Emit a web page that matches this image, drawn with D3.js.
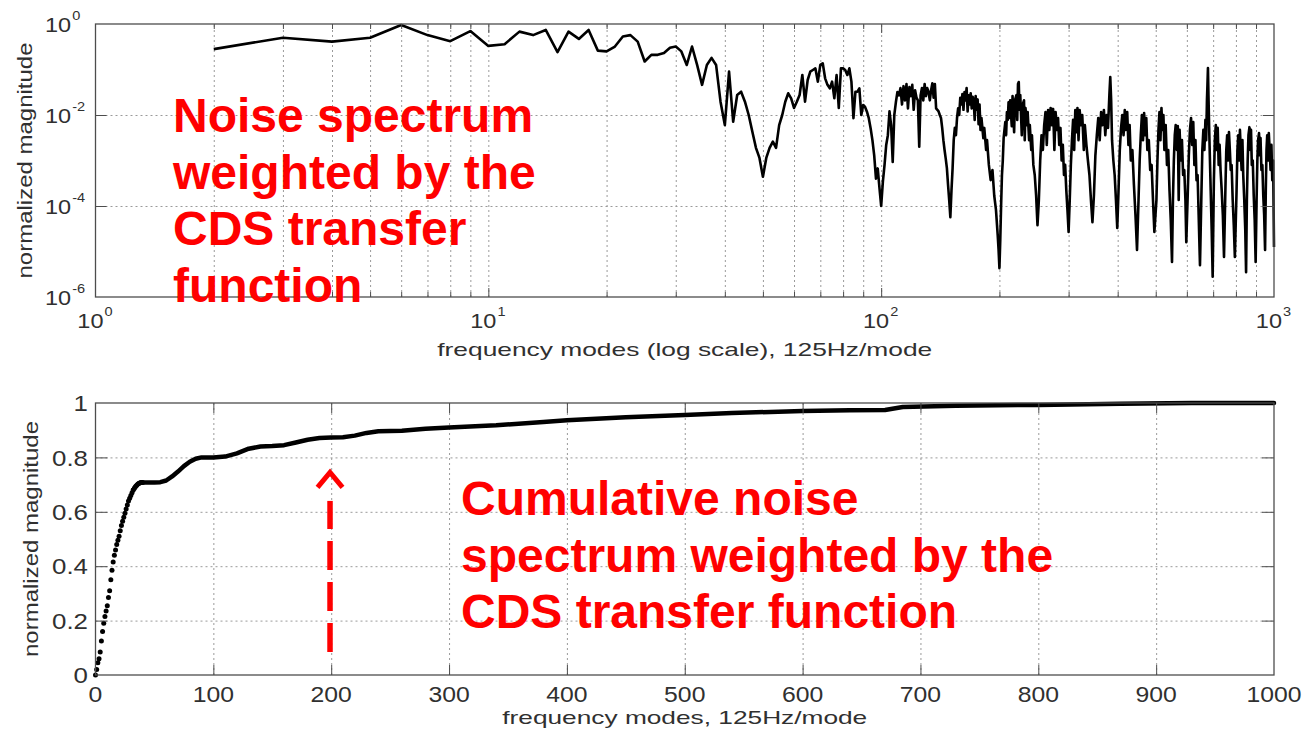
<!DOCTYPE html>
<html>
<head>
<meta charset="utf-8">
<script src="https://cdn.jsdelivr.net/npm/d3@7"></script>
<style>
  html, body { margin: 0; padding: 0; background: #ffffff; }
  svg { display: block; }
  text { font-family: "Liberation Sans", Arial, Helvetica, sans-serif; }
</style>
</head>
<body>
<svg id="chart" width="1305" height="735"></svg>
<script>
// ---- Noise spectrum weighted by the CDS transfer function: [mode, normalized magnitude]
const spectrumLow = [
  [2,0.28],[3,0.50],[4,0.41],[5,0.50],[6,0.95],[7,0.57],[8,0.42],[9,0.70],[10,0.33],
  [11,0.36],[12,0.68],[13,0.57],[14,0.74],[15,0.24],[16,0.68],[17,0.47],[18,0.74],[19,0.26],[20,0.25],
  [21,0.32],[22,0.53],[23,0.57],[24,0.41],[25,0.15],[26,0.21],[27,0.21],[28,0.23],[29,0.30],[30,0.32],
  [31,0.25],[32,0.126],[33,0.32],[34,0.126],[35,0.046],[36,0.126],[37,0.18],[38,0.126],[39,0.0196],[40,0.006],
  [41,0.09],[42,0.0071],[43,0.0275],[44,0.0325],[45,0.0196],[46,0.01],[47,0.0043],[48,0.0019],[49,0.00114],[50,0.00044],
  [51,0.00114],[52,0.0019],[53,0.0026],[54,0.0019],[55,0.006],[56,0.01],[57,0.0196],[58,0.03],[59,0.0233],[60,0.0143],
  [61,0.0196],[62,0.0275],[63,0.0757],[64,0.0196],[65,0.0588],[66,0.09],[67,0.0976],[68,0.106],[69,0.054],[70,0.126],
  [71,0.137],[72,0.064],[73,0.046],[74,0.0386],[75,0.054],[76,0.0233],[77,0.0757],[78,0.0143],[79,0.106],[80,0.106],
  [81,0.0976],[82,0.0757],[83,0.106],[84,0.054],[85,0.0085],[86,0.0325],[87,0.0325],[88,0.0386],[89,0.01],[90,0.0166],
  [91,0.015],[92,0.0118],[93,0.0085],[94,0.0051],[95,0.0028],[96,0.0013],[97,0.0004],[98,0.00067],[99,0.00025]
];
const spectrumMid = [
  [100,1.0e-4],[101,3.4e-4],[102,8.0e-4],[103,2.2e-3],[104,3.6e-3],[105,1.2e-2],[106,6.0e-3],[107,9.3e-4],[108,1.0e-2],[109,1.9e-2],
  [110,3.2e-2],[111,2.7e-2],[112,3.9e-2],[113,1.7e-2],[114,4.3e-2],[115,2.1e-2],[116,4.8e-2],[117,1.4e-2],[118,4.1e-2],[119,2.6e-2],
  [120,4.6e-2],[121,1.3e-2],[122,3.5e-2],[123,2.4e-2],[124,2.1e-2],[125,2.0e-3],[126,2.7e-2],[127,3.9e-2],[128,2.1e-2],[129,4.8e-2],
  [130,2.6e-2],[131,3.9e-2],[132,3.2e-2],[133,2.1e-2],[134,3.5e-2],[135,5.0e-2],[136,2.4e-2],[137,4.8e-2],[138,1.4e-2],[139,1.3e-2],
  [140,1.2e-2],[141,1.0e-2],[142,8.6e-3],[143,5.2e-3],[144,2.8e-3],[145,1.7e-3],[146,1.1e-3],[147,6.8e-4],[148,2.9e-4],[149,1.35e-4],
  [150,5.7e-5],[151,2.2e-4],[152,6.8e-4],[153,2.8e-3],[154,5.2e-3],[155,3.6e-3],[156,8.6e-3],[157,1.4e-2],[158,1.0e-2],[159,2.4e-2],
  [160,1.7e-2],[161,2.9e-2],[162,1.3e-2],[163,3.2e-2],[164,2.1e-2],[165,3.9e-2],[166,1.2e-2],[167,2.7e-2],[168,1.7e-2],[169,3.0e-2],
  [170,1.4e-2],[171,2.5e-2],[172,2.1e-2],[173,7.8e-3],[174,2.6e-2],[175,1.3e-2],[176,2.2e-2],[177,6.3e-3],[178,1.7e-2],[179,4.7e-3],
  [180,8.6e-3],[182,3.1e-3],[183,5.2e-3],[185,1.7e-3],[186,2.8e-3],[188,8.0e-4],[190,3.7e-4],[192,6.2e-4],[194,1.7e-4],[196,8.2e-5],
  [198,2.3e-5],[199,1.1e-5],[200,4.3e-6]
];
const spectrumHigh = [
  [201,1.8e-5],[202,1.05e-4],[203,4.8e-4],[204,1.0e-3],[205,3.1e-3],[206,4.7e-3],[207,7.0e-3],[208,3.6e-3],[209,1.16e-2],[210,7.8e-3],
  [211,1.9e-2],[212,8.6e-3],[213,2.1e-2],[215,5.7e-3],[216,2.6e-2],[218,4.2e-3],[219,2.1e-2],[221,2.75e-2],[222,7.8e-3],[223,4.8e-2],
  [224,5.3e-2],[225,1.3e-2],[226,2.75e-2],[228,3.6e-3],[229,1.66e-2],[231,2.1e-2],[232,2.8e-3],[233,1.43e-2],[235,6.0e-3],[236,1.16e-2],
  [238,2.8e-3],[239,6.0e-3],[241,1.7e-3],[242,3.6e-3],[244,8.0e-4],[246,4.8e-4],[248,1.7e-4],[250,3.8e-5],
  [252,1.35e-4],[254,1.0e-3],[256,3.6e-3],[258,1.7e-3],[260,6.0e-3],[262,1.16e-2],[264,2.2e-3],[266,1.29e-2],[268,4.7e-3],[270,1.43e-2],
  [272,6.0e-3],[274,1.36e-2],[276,1.7e-3],[278,1.16e-2],[280,4.7e-3],[282,8.6e-3],[284,2.2e-3],[286,5.2e-3],[288,1.0e-3],[290,2.2e-3],
  [292,4.8e-4],[294,8.0e-4],[296,2.2e-4],[298,8.2e-5],[300,2.7e-5],
  [302,1.35e-4],[304,8.0e-4],[306,2.8e-3],[308,7.8e-3],[310,1.7e-3],[312,1.29e-2],[314,4.2e-3],[316,1.43e-2],[318,2.8e-3],[320,1.29e-2],
  [323,6.0e-3],[325,1.0e-2],[328,1.7e-3],[330,6.0e-3],[333,2.2e-3],[336,1.0e-3],[339,4.8e-4],[342,1.35e-4],[345,4.4e-5],
  [348,1.7e-4],[351,1.3e-3],[354,3.6e-3],[357,8.6e-3],[360,2.8e-3],[363,1.16e-2],[366,6.0e-3],[369,1.29e-2],[372,3.6e-3],[375,1.0e-2],
  [378,5.2e-3],[381,2.75e-2],[383,6.8e-2],[385,2.1e-2],[387,2.8e-3],[390,1.0e-3],[393,4.8e-4],[396,1.35e-4],[399,3.3e-5],
  [402,2.2e-4],[405,1.7e-3],[408,5.2e-3],[411,1.0e-2],[414,3.6e-3],[417,1.29e-2],[420,4.7e-3],[423,1.16e-2],[426,2.2e-3],[429,6.0e-3],
  [432,1.0e-3],[436,1.7e-3],[440,2.9e-4],[444,6.3e-5],[448,1.08e-5],
  [452,1.35e-4],[455,1.0e-3],[458,3.6e-3],[461,1.0e-2],[464,2.8e-3],[467,1.11e-2],[470,3.6e-3],[473,8.6e-3],[476,1.7e-3],[480,2.8e-3],
  [484,6.2e-4],[488,8.0e-4],[492,1.35e-4],[496,2.7e-5],
  [502,1.35e-4],[505,1.0e-3],[508,4.7e-3],[511,1.16e-2],[514,2.8e-3],[517,1.43e-2],[520,4.7e-3],[523,1.0e-2],[526,1.7e-3],[530,6.0e-3],
  [534,8.0e-4],[538,1.7e-3],[542,2.2e-4],[546,4.9e-5],[550,5.9e-6],
  [553,1.35e-4],[556,1.0e-3],[559,3.6e-3],[562,6.0e-3],[566,1.7e-3],[569,5.7e-3],[572,1.35e-4],[575,4.7e-3],[579,1.0e-3],[583,2.8e-3],
  [587,4.8e-4],[591,6.2e-4],[595,1.35e-4],[598,1.6e-5],
  [603,1.7e-4],[607,1.3e-3],[611,4.7e-3],[615,8.6e-3],[619,2.2e-3],[623,7.0e-3],[627,8.0e-4],[631,2.8e-3],[635,3.7e-4],[639,4.8e-4],
  [643,6.3e-5],[648,5.0e-6],
  [653,1.35e-4],[657,1.7e-3],[661,4.7e-3],[665,1.7e-3],[669,7.8e-3],[672,2.8e-3],[675,2.1e-2],[677,4.6e-2],[679,1.08e-1],[681,2.75e-2],
  [684,4.7e-3],[687,1.0e-3],[690,2.2e-4],[694,3.0e-5],[698,2.8e-6],
  [703,3.7e-4],[707,2.8e-3],[711,6.0e-3],[715,1.7e-3],[719,5.2e-3],[723,8.0e-4],[727,2.2e-3],[731,6.2e-4],[736,2.2e-4],[741,6.3e-5],[746,7.6e-6],
  [752,2.2e-4],[756,1.7e-3],[760,3.6e-3],[764,1.0e-3],[768,4.2e-3],[772,1.7e-3],[776,6.2e-4],[780,8.0e-4],[785,1.35e-4],[790,3.8e-5],[795,7.6e-6],
  [803,2.2e-4],[807,1.7e-3],[811,3.6e-3],[815,1.0e-3],[819,4.7e-3],[823,1.7e-3],[827,6.2e-4],[831,2.8e-3],[835,4.8e-4],[840,1.35e-4],[845,3.0e-5],[849,3.5e-6],
  [853,1.35e-4],[857,1.0e-3],[861,3.6e-3],[866,5.4e-3],[870,1.7e-3],[874,4.7e-3],[878,8.0e-4],[883,1.0e-3],[888,1.7e-4],[893,4.9e-5],[898,5.9e-6],
  [903,1.35e-4],[907,1.0e-3],[911,2.8e-3],[916,4.0e-3],[920,1.3e-3],[924,3.1e-3],[929,6.2e-4],[934,8.0e-4],[939,1.7e-4],[944,6.3e-5],[949,1.08e-5],
  [953,2.2e-4],[957,1.7e-3],[961,3.6e-3],[966,1.0e-3],[970,4.0e-3],[975,1.7e-3],[980,6.2e-4],[985,2.2e-3],[990,3.7e-4],[995,1.0e-3],[1000,1.26e-5]
];

// ---- Cumulative noise spectrum weighted by the CDS transfer function: [mode, normalized magnitude]
const cumulative = [
  [0,0],[1,0.02],[2,0.045],[3,0.06],[4,0.085],[5,0.125],[6,0.16],[7,0.19],[8,0.215],[9,0.235],
  [10,0.255],[11,0.285],[12,0.31],[13,0.35],[14,0.385],[15,0.415],[16,0.44],[17,0.46],[18,0.48],[19,0.495],
  [20,0.51],[21,0.53],[22,0.55],[23,0.565],[24,0.58],[25,0.595],[26,0.61],[27,0.625],[28,0.64],[29,0.65],
  [30,0.66],[31,0.67],[32,0.68],[33,0.687],[34,0.693],[35,0.698],[36,0.702],[37,0.705],[38,0.707],[39,0.708],
  [40,0.708],[45,0.708],[50,0.708],[55,0.709],[60,0.715],[65,0.73],[70,0.748],[75,0.768],[80,0.784],[85,0.795],
  [90,0.8],[100,0.8],[110,0.803],[120,0.815],[130,0.832],[140,0.84],[150,0.842],[160,0.845],[170,0.855],[180,0.865],
  [190,0.871],[200,0.873],[210,0.874],[220,0.88],[230,0.89],[240,0.896],[260,0.898],[280,0.905],[300,0.91],[340,0.918],
  [380,0.93],[400,0.937],[450,0.948],[500,0.956],[540,0.963],[600,0.971],[640,0.973],[670,0.974],[685,0.985],[730,0.99],
  [800,0.993],[870,0.997],[930,1.0],[1000,1.0]
];

// ---- Axis ticks and texts
const topXTickExps = ["0", "1", "2", "3"];
const topYTickExps = ["0", "-2", "-4", "-6"];
const bottomXTicks = [0, 100, 200, 300, 400, 500, 600, 700, 800, 900, 1000];
const bottomYTicks = [0, 0.2, 0.4, 0.6, 0.8, 1];
const topXTitle = "frequency modes (log scale), 125Hz/mode";
const bottomXTitle = "frequency modes, 125Hz/mode";
const yTitle = "normalized magnitude";
const topNote = ["Noise spectrum", "weighted by the", "CDS transfer", "function"];
const bottomNote = ["Cumulative noise", "spectrum weighted by the", "CDS transfer function"];

// ---- Layout
const W = 1305, H = 735;
const L = 95.5, R = 1274;
const T1 = 24, B1 = 297;      // upper panel
const T2 = 403, B2 = 675;     // lower panel
const FRAME = "#4d4d4d", GRID = "#9a9a9a", TEXT = "#303030", RED = "#ff0000";

const svg = d3.select("#chart");
svg.append("rect").attr("width", W).attr("height", H).attr("fill", "#ffffff");

const xTop = d3.scaleLog().domain([1, 1000]).range([L, R]);
const yTop = d3.scaleLog().domain([1e-6, 1]).range([B1, T1]);
const xBot = d3.scaleLinear().domain([0, 1000]).range([L, R]);
const yBot = d3.scaleLinear().domain([0, 1]).range([B2, T2]);

function styleTicks(g, color, dash) {
  g.select(".domain").remove();
  g.selectAll("line").attr("stroke", color).attr("stroke-width", 1)
    .attr("stroke-dasharray", dash || null);
  g.selectAll("text").remove();
}

// Grid lines (dotted) drawn with axes whose ticks span the plot
function grid(axisFn, scale, values, span, transform) {
  svg.append("g").attr("transform", transform)
    .call(axisFn(scale).tickValues(values).tickSize(-span).tickFormat(""))
    .call(g => styleTicks(g, GRID, "2,3"));
}
// Inward tick marks
function ticks(axisFn, scale, values, len, transform) {
  svg.append("g").attr("transform", transform)
    .call(axisFn(scale).tickValues(values).tickSize(-len).tickFormat(""))
    .call(g => styleTicks(g, FRAME));
}

// ===== Upper panel =====
const logTicks = xTop.ticks().filter(v => v > 1 && v < 1000);
const majorX = logTicks.filter(v => Math.abs(Math.log10(v) - Math.round(Math.log10(v))) < 1e-9);
const minorX = logTicks.filter(v => !majorX.includes(v));
const topYGrid = [1e-2, 1e-4];

grid(d3.axisBottom, xTop, logTicks, B1 - T1, `translate(0,${B1})`);
grid(d3.axisLeft, yTop, topYGrid, R - L, `translate(${L},0)`);

const spectrum = spectrumLow.concat(spectrumMid, spectrumHigh);
svg.append("path")
  .datum(spectrum)
  .attr("fill", "none")
  .attr("stroke", "#000")
  .attr("stroke-width", 2.6)
  .attr("stroke-linejoin", "round")
  .attr("d", d3.line().x(d => xTop(d[0])).y(d => yTop(d[1])));

ticks(d3.axisBottom, xTop, minorX, 5, `translate(0,${B1})`);
ticks(d3.axisTop, xTop, minorX, 5, `translate(0,${T1})`);
ticks(d3.axisBottom, xTop, majorX, 9, `translate(0,${B1})`);
ticks(d3.axisTop, xTop, majorX, 9, `translate(0,${T1})`);
ticks(d3.axisLeft, yTop, topYGrid, 11, `translate(${L},0)`);
ticks(d3.axisRight, yTop, topYGrid, 11, `translate(${R},0)`);

svg.append("rect").attr("x", L).attr("y", T1).attr("width", R - L).attr("height", B1 - T1)
  .attr("fill", "none").attr("stroke", FRAME).attr("stroke-width", 1.3);

function powerLabel(x, y, exp, anchor) {
  const t = svg.append("text")
    .attr("transform", `translate(${x},${y}) scale(1.12,1)`)
    .attr("text-anchor", anchor).attr("fill", TEXT);
  t.append("tspan").attr("font-size", 21).text("10");
  t.append("tspan").attr("font-size", 13).attr("dx", 1).attr("dy", -12).text(exp);
}
topYTickExps.forEach(e => powerLabel(45, yTop(Math.pow(10, +e)) + 7.5, e, "start"));
topXTickExps.forEach(e => powerLabel(xTop(Math.pow(10, +e)) - 0.5, 328, e, "middle"));

svg.append("text")
  .attr("x", (L + R) / 2).attr("y", 356)
  .attr("text-anchor", "middle").attr("font-size", 19).attr("fill", TEXT)
  .attr("textLength", 495).attr("lengthAdjust", "spacingAndGlyphs")
  .text(topXTitle);
svg.append("text")
  .attr("transform", `translate(32,${(T1 + B1) / 2}) rotate(-90)`)
  .attr("text-anchor", "middle").attr("font-size", 21).attr("fill", TEXT)
  .attr("textLength", 236).attr("lengthAdjust", "spacingAndGlyphs")
  .text(yTitle);

// ===== Lower panel =====
const botXGrid = bottomXTicks.filter(v => v > 0 && v < 1000);
const botYGrid = bottomYTicks.filter(v => v > 0 && v < 1);

grid(d3.axisBottom, xBot, botXGrid, B2 - T2, `translate(0,${B2})`);
grid(d3.axisLeft, yBot, botYGrid, R - L, `translate(${L},0)`);

// Solid trace where the points merge, separate dots where the curve is steep
svg.append("path")
  .datum(cumulative.filter(d => d[0] >= 32))
  .attr("fill", "none")
  .attr("stroke", "#000")
  .attr("stroke-width", 4.5)
  .attr("stroke-linejoin", "round")
  .attr("stroke-linecap", "round")
  .attr("d", d3.line().x(d => xBot(d[0])).y(d => yBot(d[1])));
svg.append("g").selectAll("circle")
  .data(cumulative.filter(d => d[0] <= 40))
  .join("circle")
  .attr("cx", d => xBot(d[0])).attr("cy", d => yBot(d[1]))
  .attr("r", 2.5).attr("fill", "#000");

ticks(d3.axisBottom, xBot, botXGrid, 10, `translate(0,${B2})`);
ticks(d3.axisTop, xBot, botXGrid, 10, `translate(0,${T2})`);
ticks(d3.axisLeft, yBot, botYGrid, 12, `translate(${L},0)`);
ticks(d3.axisRight, yBot, botYGrid, 12, `translate(${R},0)`);

svg.append("rect").attr("x", L).attr("y", T2).attr("width", R - L).attr("height", B2 - T2)
  .attr("fill", "none").attr("stroke", FRAME).attr("stroke-width", 1.3);

bottomXTicks.forEach(v => {
  svg.append("text")
    .attr("transform", `translate(${xBot(v)},702) scale(1.1,1)`)
    .attr("text-anchor", "middle").attr("font-size", 22.5).attr("fill", TEXT)
    .text(String(v));
});
bottomYTicks.forEach(v => {
  svg.append("text")
    .attr("transform", `translate(88,${yBot(v) + 8.2}) scale(1.15,1)`)
    .attr("text-anchor", "end").attr("font-size", 22.5).attr("fill", TEXT)
    .text(String(v));
});

svg.append("text")
  .attr("x", (L + R) / 2).attr("y", 724)
  .attr("text-anchor", "middle").attr("font-size", 19).attr("fill", TEXT)
  .attr("textLength", 365).attr("lengthAdjust", "spacingAndGlyphs")
  .text(bottomXTitle);
svg.append("text")
  .attr("transform", `translate(38,${(T2 + B2) / 2}) rotate(-90)`)
  .attr("text-anchor", "middle").attr("font-size", 21).attr("fill", TEXT)
  .attr("textLength", 236).attr("lengthAdjust", "spacingAndGlyphs")
  .text(yTitle);

// ===== Red annotations =====
function note(lines, x, y0, step) {
  const t = svg.append("text").attr("fill", RED).attr("font-size", 48).attr("font-weight", "bold");
  lines.forEach((s, i) => t.append("tspan").attr("x", x).attr("y", y0 + i * step).text(s));
}
note(topNote, 173, 132, 56.7);
note(bottomNote, 461, 515, 56.7);

// Dashed arrow pointing at mode 200 on the cumulative curve
const ax = xBot(199);
svg.append("path")
  .attr("d", `M${ax},${yBot(0.085)}V${yBot(0.64)}`)
  .attr("stroke", RED).attr("stroke-width", 5.5).attr("stroke-dasharray", "29,12").attr("fill", "none");
svg.append("path")
  .attr("d", `M${ax - 12.5},${yBot(0.69)}L${ax},${yBot(0.745)}L${ax + 12.5},${yBot(0.69)}`)
  .attr("stroke", RED).attr("stroke-width", 5).attr("fill", "none").attr("stroke-linejoin", "miter");
</script>
</body>
</html>
